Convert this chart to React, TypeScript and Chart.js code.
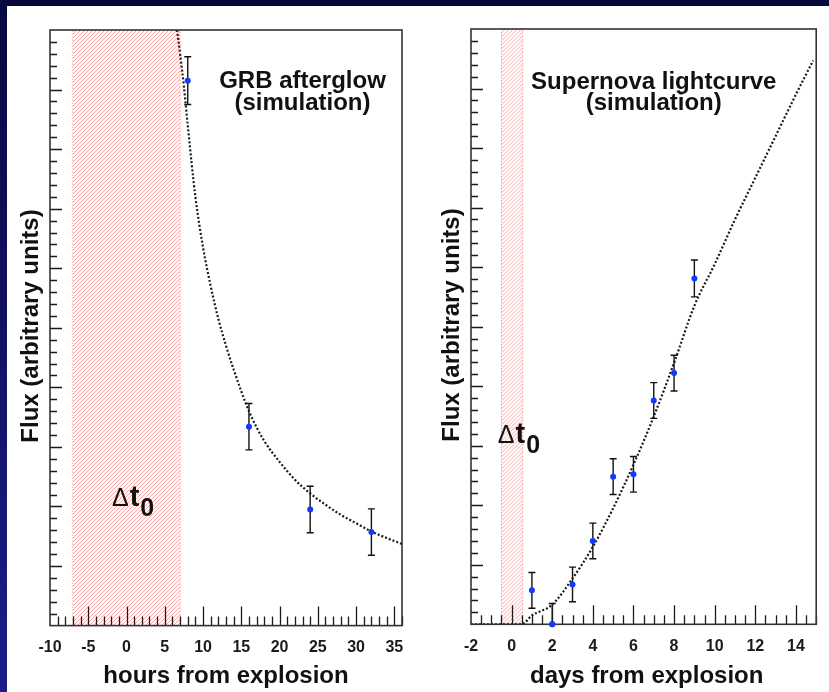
import React, { useEffect, useRef } from "react";
import { Chart, registerables } from "chart.js";

Chart.register(...registerables);

const FONT = '"Liberation Sans", Arial, Helvetica, sans-serif';

// ---------- GRB afterglow (left panel) ----------
const grbHours = [8, 16, 24, 32];
const grbFlux = [9.15, 3.34, 1.95, 1.57];
const grbErr = [0.4, 0.39, 0.39, 0.39];
const grbCurveHours = [6.6, 7, 7.5, 8, 9, 10, 11, 12, 13, 14, 16, 18, 20, 22, 24, 26, 28, 30, 32, 34, 36];
const grbCurveFlux = [10.0, 9.6, 9.05, 8.4, 7.2, 6.35, 5.7, 5.15, 4.7, 4.3, 3.6, 3.1, 2.75, 2.45, 2.22, 2.03, 1.86, 1.72, 1.58, 1.47, 1.37];
const grbWindow = [-7, 7];
const grbTitle = ["GRB afterglow", "(simulation)"];
const grbXTitle = "hours from explosion";

// ---------- Supernova lightcurve (right panel) ----------
const snDays = [1, 2, 3, 4, 5, 6, 7, 8, 9];
const snFlux = [0.57, 0.0, 0.67, 1.4, 2.48, 2.52, 3.76, 4.22, 5.81];
const snErr = [0.3, 0.35, 0.29, 0.3, 0.3, 0.3, 0.3, 0.3, 0.31];
const snCurveDays = [-2, 0.5, 1, 2, 3, 4, 5, 6, 7, 8, 9, 10, 11, 12, 13, 14, 14.85];
const snCurveFlux = [0, 0, 0.15, 0.33, 0.77, 1.3, 1.95, 2.68, 3.49, 4.39, 5.35, 6.05, 6.8, 7.5, 8.2, 8.9, 9.47];
const snWindow = [-0.5, 0.55];
const snTitle = ["Supernova lightcurve", "(simulation)"];
const snXTitle = "days from explosion";

const yTitle = "Flux (arbitrary units)";

type Panel = {
  canvasW: number;
  area: { left: number; top: number; right: number; bottom: number };
  xMin: number;
  xMax: number;
  xStep: number;
  xMajor: number;
  xs: number[];
  ys: number[];
  errs: number[];
  cx: number[];
  cy: number[];
  win: number[];
  title: string[];
  titleAt: [number, number, number];
  deltaAt: [number, number];
  xTitle: string;
  xTitlePos: [number, number];
  yTitlePos: [number, number];
  labelPad: number;
};

function buildChart(canvas: HTMLCanvasElement, p: Panel): Chart {
  const H = 692;
  const isMajor = (v: number, every: number) => Math.abs(v / every - Math.round(v / every)) < 1e-6;

  const deco = {
    id: "deco",
    beforeDatasetsDraw(chart: any) {
      const { ctx, chartArea } = chart;
      const xs = chart.scales.x;
      const ys = chart.scales.y;
      const hx1 = xs.getPixelForValue(p.win[0]);
      const hx2 = xs.getPixelForValue(p.win[1]);
      const top = ys.getPixelForValue(10);
      const bot = ys.getPixelForValue(0);
      ctx.save();
      ctx.beginPath();
      ctx.rect(hx1, top, hx2 - hx1, bot - top);
      ctx.clip();
      ctx.strokeStyle = "rgba(255,80,80,0.62)";
      ctx.lineWidth = 0.85;
      ctx.beginPath();
      const hh = bot - top;
      for (let k = hx1 - hh; k < hx2 + 4; k += 4) {
        ctx.moveTo(k, bot);
        ctx.lineTo(k + hh, top);
      }
      ctx.stroke();
      ctx.restore();

      ctx.save();
      ctx.beginPath();
      ctx.rect(chartArea.left, chartArea.top, chartArea.right - chartArea.left, chartArea.bottom - chartArea.top);
      ctx.clip();
      ctx.strokeStyle = "#111";
      ctx.lineWidth = 1.4;
      for (let i = 0; i < p.xs.length; i++) {
        const x = xs.getPixelForValue(p.xs[i]);
        const y1 = ys.getPixelForValue(p.ys[i] + p.errs[i]);
        const y2 = ys.getPixelForValue(p.ys[i] - p.errs[i]);
        ctx.beginPath();
        ctx.moveTo(x, y1);
        ctx.lineTo(x, y2);
        ctx.moveTo(x - 3.5, y1);
        ctx.lineTo(x + 3.5, y1);
        ctx.moveTo(x - 3.5, y2);
        ctx.lineTo(x + 3.5, y2);
        ctx.stroke();
      }
      ctx.restore();
    },
    afterDatasetsDraw(chart: any) {
      const { ctx, chartArea } = chart;
      const xs = chart.scales.x;
      const ys = chart.scales.y;
      ctx.save();
      ctx.strokeStyle = "#1a1a1a";
      ctx.lineWidth = 1.3;
      const nx = Math.round((p.xMax - p.xMin) / p.xStep);
      ctx.beginPath();
      for (let i = 1; i <= nx; i++) {
        const v = p.xMin + i * p.xStep;
        const px = Math.round(xs.getPixelForValue(v)) + 0.5;
        const len = isMajor(v, p.xMajor) ? 19 : 9;
        ctx.moveTo(px, chartArea.bottom);
        ctx.lineTo(px, chartArea.bottom - len);
      }
      for (let i = 1; i < 50; i++) {
        const v = i * 0.2;
        const py = Math.round(ys.getPixelForValue(v)) + 0.5;
        const len = isMajor(v, 1) ? 12 : 7;
        ctx.moveTo(chartArea.left, py);
        ctx.lineTo(chartArea.left + len, py);
      }
      ctx.stroke();
      ctx.strokeStyle = "#333";
      ctx.lineWidth = 1.6;
      ctx.strokeRect(chartArea.left, chartArea.top, chartArea.right - chartArea.left, chartArea.bottom - chartArea.top);
      // redraw data points on top of the frame (points sitting on the axis)
      ctx.fillStyle = "#1538ff";
      for (let i = 0; i < p.xs.length; i++) {
        const x = xs.getPixelForValue(p.xs[i]);
        const y = ys.getPixelForValue(p.ys[i]);
        if (Math.abs(y - chartArea.bottom) < 2) {
          ctx.beginPath();
          ctx.arc(x, y, 3, 0, Math.PI * 2);
          ctx.fill();
        }
      }
      ctx.restore();
    },
    afterDraw(chart: any) {
      const { ctx } = chart;
      const xs = chart.scales.x;
      const ys = chart.scales.y;
      ctx.save();
      ctx.fillStyle = "#111";
      ctx.textAlign = "center";
      ctx.textBaseline = "alphabetic";
      ctx.font = `bold 24px ${FONT}`;
      const tx = xs.getPixelForValue(p.titleAt[0]);
      ctx.fillText(p.title[0], tx, ys.getPixelForValue(p.titleAt[1]));
      ctx.fillText(p.title[1], tx, ys.getPixelForValue(p.titleAt[2]));
      ctx.textAlign = "left";
      let dx = xs.getPixelForValue(p.deltaAt[0]);
      const dy = ys.getPixelForValue(p.deltaAt[1]);
      ctx.font = `25px ${FONT}`;
      ctx.fillText("\u0394", dx, dy);
      dx += ctx.measureText("\u0394").width + 1;
      ctx.font = `bold 29px ${FONT}`;
      ctx.fillText("t", dx, dy);
      dx += ctx.measureText("t").width + 1;
      ctx.font = `bold 25px ${FONT}`;
      ctx.fillText("0", dx, dy + 10);
      ctx.textAlign = "center";
      ctx.font = `bold 24px ${FONT}`;
      ctx.fillText(p.xTitle, p.xTitlePos[0], p.xTitlePos[1]);
      ctx.translate(p.yTitlePos[0], p.yTitlePos[1]);
      ctx.rotate(-Math.PI / 2);
      ctx.fillText(yTitle, 0, 0);
      ctx.restore();
    },
  };

  return new Chart(canvas, {
    type: "line",
    data: {
      datasets: [
        {
          data: p.xs.map((x, i) => ({ x, y: p.ys[i] })),
          showLine: false,
          pointRadius: 3,
          pointBackgroundColor: "#1538ff",
          pointBorderWidth: 0,
          clip: false,
          order: 0,
        },
        {
          data: p.cx.map((x, i) => ({ x, y: p.cy[i] })),
          borderColor: "#1a1a1a",
          borderWidth: 2.2,
          borderDash: [2, 2],
          pointRadius: 0,
          cubicInterpolationMode: "monotone",
          fill: false,
          order: 1,
        },
        {
          data: [
            { x: p.win[0], y: 0 },
            { x: p.win[0], y: 10 },
            { x: p.win[1], y: 10 },
            { x: p.win[1], y: 0 },
          ],
          borderColor: "rgba(255,60,60,0.7)",
          borderWidth: 1,
          borderDash: [1, 2],
          pointRadius: 0,
          backgroundColor: "rgba(0,0,0,0)",
          fill: false,
          tension: 0,
          order: 2,
        },
      ] as any,
    },
    options: {
      animation: false,
      responsive: false,
      events: [],
      layout: {
        padding: { top: p.area.top, left: 0, bottom: 0, right: p.canvasW - p.area.right },
      },
      plugins: { legend: { display: false }, tooltip: { enabled: false }, title: { display: false } },
      scales: {
        x: {
          type: "linear",
          min: p.xMin,
          max: p.xMax,
          grid: { display: false, drawTicks: false },
          border: { display: false },
          ticks: {
            stepSize: p.xStep,
            autoSkip: false,
            maxRotation: 0,
            minRotation: 0,
            padding: p.labelPad,
            color: "#1a1a1a",
            font: { family: FONT, size: 16, weight: "bold" },
            callback: (v: any) => {
              const n = Number(v);
              return isMajor(n, p.xMajor) ? String(Math.round(n)) : "";
            },
          },
          afterFit: (s: any) => {
            s.height = H - p.area.bottom;
          },
        },
        y: {
          type: "linear",
          min: 0,
          max: 10,
          grid: { display: false, drawTicks: false },
          border: { display: false },
          ticks: { display: false, stepSize: 1 },
          afterFit: (s: any) => {
            s.width = p.area.left;
          },
        },
      },
    } as any,
    plugins: [deco],
  });
}

const leftPanel: Panel = {
  canvasW: 415,
  area: { left: 50, top: 30, right: 402, bottom: 625.6 },
  xMin: -10,
  xMax: 36,
  xStep: 1,
  xMajor: 5,
  xs: grbHours,
  ys: grbFlux,
  errs: grbErr,
  cx: grbCurveHours,
  cy: grbCurveFlux,
  win: grbWindow,
  title: grbTitle,
  titleAt: [23, 9.02, 8.66],
  deltaAt: [-1.9, 2.01],
  xTitle: grbXTitle,
  xTitlePos: [226, 682.7],
  yTitlePos: [38, 326],
  labelPad: 12.3,
};

const rightPanel: Panel = {
  canvasW: 414,
  area: { left: 56, top: 29, right: 408.3, bottom: 624.3 },
  xMin: -2,
  xMax: 15,
  xStep: 0.5,
  xMajor: 2,
  xs: snDays,
  ys: snFlux,
  errs: snErr,
  cx: snCurveDays,
  cy: snCurveFlux,
  win: snWindow,
  title: snTitle,
  titleAt: [7.0, 9.0, 8.64],
  deltaAt: [-0.68, 3.05],
  xTitle: snXTitle,
  xTitlePos: [231.7, 683],
  yTitlePos: [44.3, 325],
  labelPad: 12.8,
};

function PanelChart({ panel, left }: { panel: Panel; left: number }) {
  const ref = useRef<HTMLCanvasElement | null>(null);
  useEffect(() => {
    if (!ref.current) return;
    const chart = buildChart(ref.current, panel);
    return () => chart.destroy();
  }, [panel]);
  return (
    <canvas
      ref={ref}
      width={panel.canvasW}
      height={692}
      style={{ position: "absolute", left, top: 0, width: panel.canvasW, height: 692 }}
    />
  );
}

export default function App() {
  return (
    <div
      style={{
        position: "fixed",
        left: 0,
        top: 0,
        width: 829,
        height: 692,
        overflow: "hidden",
        background: "#07073a",
      }}
    >
      <div
        style={{
          position: "absolute",
          left: 0,
          top: 0,
          width: 7,
          height: 692,
          background: "linear-gradient(to bottom, #080840, #1c1c8a)",
        }}
      />
      <div style={{ position: "absolute", left: 7, top: 6, right: 0, bottom: 0, background: "#ffffff" }} />
      <PanelChart panel={leftPanel} left={0} />
      <PanelChart panel={rightPanel} left={415} />
    </div>
  );
}
